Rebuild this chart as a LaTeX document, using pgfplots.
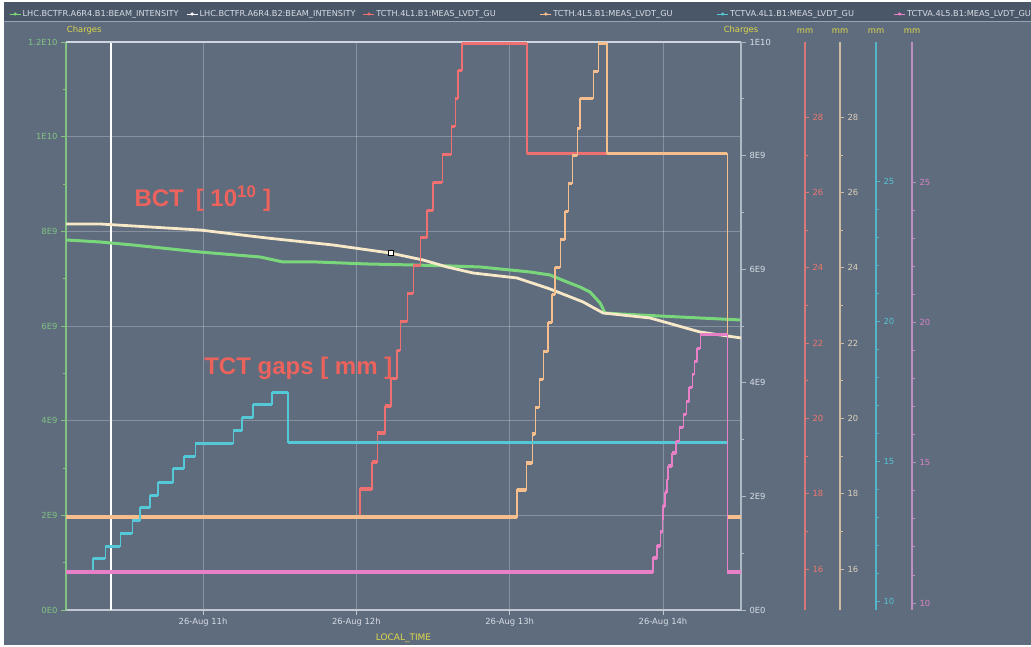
\documentclass[border=0pt]{standalone}
\usepackage{pgfplots}
\pgfplotsset{compat=1.18}
\usepackage{pgfplotstable}
\usepackage{fontspec}
\setmainfont{DejaVu Sans}
\newfontfamily\annfont{Liberation Sans}

% ---------- colours ----------
\definecolor{bgc}{RGB}{94,108,126}
\definecolor{barc}{RGB}{74,87,105}
\definecolor{sepc}{RGB}{150,165,185}
\definecolor{txtc}{RGB}{215,220,228}
\definecolor{yellowc}{RGB}{222,216,72}
\definecolor{greenc}{RGB}{122,214,122}
\definecolor{greenax}{RGB}{130,195,130}
\definecolor{creamc}{RGB}{247,232,200}
\definecolor{redc}{RGB}{238,112,112}
\definecolor{orangec}{RGB}{246,190,140}
\definecolor{cyanc}{RGB}{84,200,214}
\definecolor{pinkc}{RGB}{232,128,200}
\definecolor{topc}{RGB}{205,213,222}
\definecolor{botc}{RGB}{192,200,210}
\definecolor{rightc}{RGB}{175,185,196}
\definecolor{redax}{RGB}{215,120,120}
\definecolor{redlbl}{RGB}{240,118,110}
\definecolor{tanax}{RGB}{205,188,162}
\definecolor{tanlbl}{RGB}{222,208,188}
\definecolor{cyanax}{RGB}{82,182,200}
\definecolor{cyanlbl}{RGB}{84,196,210}
\definecolor{pinkax}{RGB}{192,142,192}
\definecolor{pinklbl}{RGB}{215,132,196}
\definecolor{annot}{RGB}{236,98,92}

% ---------- data (time in hours, 26 Aug) ----------
% LHC.BCTFR.A6R4.B1 intensity, units of 1E9 charges
\pgfplotstableread{
t v
10.106 7.817
10.328 7.775
10.543 7.711
10.980 7.563
11.372 7.458
11.522 7.352
11.744 7.352
12.070 7.310
12.370 7.289
12.611 7.268
12.807 7.247
13.133 7.141
13.263 7.078
13.374 6.930
13.459 6.824
13.524 6.718
13.590 6.486
13.622 6.275
13.720 6.254
13.981 6.211
14.242 6.169
14.509 6.127
}\Bi
% LHC.BCTFR.A6R4.B2 intensity, units of 1E9 charges (right scale)
\pgfplotstableread{
t v
10.106 6.796
10.328 6.796
10.543 6.761
10.980 6.690
11.417 6.549
11.848 6.426
12.220 6.285
12.435 6.162
12.592 6.039
12.761 5.933
13.048 5.845
13.263 5.652
13.479 5.423
13.609 5.229
13.916 5.141
14.242 4.894
14.509 4.789
}\Bii
% TCTH.4L1.B1 gap, mm
\pgfplotstableread{
t v
10.106 17.400
12.024 18.124
12.102 18.840
12.135 19.610
12.187 20.327
12.226 21.070
12.265 21.814
12.285 22.584
12.331 23.327
12.370 24.070
12.416 24.813
12.461 25.530
12.500 26.273
12.559 27.017
12.618 27.760
12.644 28.503
12.663 29.247
12.689 29.963
13.113 27.043
14.418 17.400
14.509 17.400
}\TCTHLi
% TCTH.4L5.B1 gap, mm
\pgfplotstableread{
t v
10.106 17.380
13.048 18.097
13.107 18.814
13.146 19.584
13.166 20.300
13.192 21.044
13.218 21.787
13.250 22.557
13.276 23.300
13.296 24.017
13.329 24.760
13.361 25.504
13.381 26.247
13.407 26.990
13.440 27.707
13.459 28.503
13.544 29.220
13.577 29.963
13.635 27.043
14.418 17.380
14.509 17.380
}\TCTHLv
% TCTVA.4L1.B1 gap, mm
\pgfplotstableread{
t v
10.106 11.036
10.282 11.536
10.361 11.964
10.459 12.429
10.537 12.893
10.589 13.357
10.654 13.786
10.706 14.250
10.804 14.750
10.876 15.179
10.948 15.643
11.196 16.107
11.254 16.571
11.326 17.036
11.450 17.464
11.554 15.679
14.418 15.679
}\TCTVALi
% TCTVA.4L5.B1 gap, mm
\pgfplotstableread{
t v
10.106 11.104
13.935 11.603
13.961 12.031
13.981 12.529
13.994 12.993
14.000 13.456
14.013 13.954
14.026 14.418
14.033 14.881
14.059 15.344
14.085 15.771
14.105 16.270
14.131 16.733
14.151 17.196
14.170 17.695
14.190 18.158
14.203 18.621
14.222 19.084
14.242 19.583
14.418 11.104
14.509 11.104
}\TCTVALv

\tikzset{lblfont/.style={font=\fontsize{8.4}{10}\selectfont}}

\pgfplotsset{
  base/.style={scale only axis, width=675pt, height=568pt,
    at={(66pt,37pt)}, anchor=south west,
    xmin=10.106, xmax=14.509,
    tick align=outside, major tick length=5pt, minor tick length=3pt,
    /pgf/number format/assume math mode=true,
    tick label style={lblfont},
    every non boxed x axis/.append style={x axis line style={-}, xtick align=outside},
    every non boxed y axis/.append style={y axis line style={-}, ytick align=outside}},
  gaps/.style={base, hide axis, clip=false},
  mmscale/.style={scale only axis, width=20pt, height=568pt, anchor=south east,
    xmin=0, xmax=1, xtick=\empty,
    every non boxed y axis/.append style={y axis line style={-}, ytick align=outside},
    axis x line=none, axis y line=right,
    tick align=outside, major tick length=4pt, minor tick length=3pt,
    /pgf/number format/assume math mode=true,
    tick label style={lblfont},
    title=mm, title style={at={(axis description cs:1,1)}, anchor=south,
      text=yellowc, lblfont, inner sep=1pt, yshift=1.5pt}},
  stepthin/.style={line width=1.1pt, const plot mark left},
  stepthick/.style={line width=3.2pt, jump mark left},
  legend image code/.code={%
    \draw[#1, line width=0.9pt] (0pt,0pt) -- (11pt,0pt);
    \fill[#1] (5.5pt,0pt) circle (1.4pt);},
}

\begin{document}
\begin{tikzpicture}
% screen background, legend bar
\fill[white] (0,0) rectangle (1031pt,647pt);
\fill[bgc] (4pt,2pt) rectangle (1031pt,645pt);
\fill[barc] (4pt,625pt) rectangle (1031pt,645pt);
\draw[sepc, line width=1pt] (4pt,625pt) -- (1031pt,625pt);

% ----- left charge scale, time axis, B1 -----
\begin{axis}[base, ymin=0, ymax=12,
  axis x line=bottom, axis y line=left,
  x axis line style={-, color=botc, line width=1.2pt},
  y axis line style={-, color=greenax, line width=1.2pt},
  xtick={11,12,13,14},
  xticklabels={26-Aug 11h,26-Aug 12h,26-Aug 13h,26-Aug 14h},
  xticklabel style={text=txtc},
  xtick style={color=botc, line width=0.8pt},
  ytick={0,2,...,12},
  yticklabels={0E0,2E9,4E9,6E9,8E9,1E10,1.2E10},
  minor y tick num=1,
  ytick style={color=greenax, line width=0.8pt},
  minor y tick style={color=greenax, line width=0.8pt},
  yticklabel style={text=greenax},
  grid=major,
  major grid style={color=white, opacity=0.25, line width=0.6pt},
  xlabel={LOCAL\_TIME},
  xlabel style={text=yellowc, font=\fontsize{9}{10}\selectfont, inner sep=1pt, yshift=-3pt},
  title={Charges},
  title style={at={(axis description cs:0.027,1)}, anchor=south,
    text=yellowc, lblfont, inner sep=1pt, yshift=1pt},
  legend columns=6,
  legend style={at={(-0.0844,1.0493)}, anchor=west, draw=none, fill=none,
    inner sep=0pt, text=txtc, font=\fontsize{8.2}{10}\selectfont,
    nodes={inner sep=1.5pt},
    /tikz/every even column/.append style={column sep=0pt}},
]
\addlegendimage{greenc}
\addlegendentry{\makebox[162pt][l]{LHC.BCTFR.A6R4.B1:BEAM\_INTENSITY}}
\addlegendimage{white}
\addlegendentry{\makebox[162pt][l]{LHC.BCTFR.A6R4.B2:BEAM\_INTENSITY}}
\addlegendimage{redc}
\addlegendentry{\makebox[162pt][l]{TCTH.4L1.B1:MEAS\_LVDT\_GU}}
\addlegendimage{orangec}
\addlegendentry{\makebox[162pt][l]{TCTH.4L5.B1:MEAS\_LVDT\_GU}}
\addlegendimage{cyanc}
\addlegendentry{\makebox[162pt][l]{TCTVA.4L1.B1:MEAS\_LVDT\_GU}}
\addlegendimage{pinkc}
\addlegendentry{\makebox[162pt][l]{TCTVA.4L5.B1:MEAS\_LVDT\_GU}}
% time cursor
\addplot[white, line width=1.2pt, forget plot] coordinates {(10.400,0) (10.400,12)};
\addplot[greenc, line width=3pt, forget plot] table {\Bi};
\node[anchor=base west, text=annot, font=\annfont\bfseries\fontsize{24}{28}\selectfont]
  at (axis cs:10.530,8.514) {BCT\hspace{0.5em}[ 10\textsuperscript{10} ]};
\node[anchor=base west, text=annot, font=\annfont\bfseries\fontsize{24}{28}\selectfont]
  at (axis cs:10.985,4.965) {TCT gaps [ mm ]};
\end{axis}

% ----- right charge scale, B2 -----
\begin{axis}[base, ymin=0, ymax=10,
  axis x line=top, axis y line=right,
  x axis line style={-, color=topc, line width=1.2pt},
  y axis line style={-, color=rightc, line width=1.2pt},
  xtick=\empty,
  ytick={0,2,...,10},
  yticklabels={0E0,2E9,4E9,6E9,8E9,1E10},
  minor y tick num=1,
  ytick style={color=rightc, line width=0.8pt},
  minor y tick style={color=rightc, line width=0.8pt},
  yticklabel style={text=txtc},
  title={Charges},
  title style={at={(axis description cs:1,1)}, anchor=south,
    text=yellowc, lblfont, inner sep=1pt, yshift=1pt},
]
\addplot[creamc, line width=2.8pt] table {\Bii};
\addplot[only marks, mark=square*, mark size=2.6pt,
  mark options={fill=white, draw=black, line width=0.6pt}] coordinates {(12.226,6.285)};
\end{axis}

% ----- collimator gaps -----
\begin{axis}[gaps, ymin=14.91, ymax=30]
\addplot[redc, stepthin] table {\TCTHLi};
\addplot[redc, stepthick] table {\TCTHLi};
\end{axis}
\begin{axis}[gaps, ymin=14.91, ymax=30]
\addplot[orangec, stepthin] table {\TCTHLv};
\addplot[orangec, stepthick] table {\TCTHLv};
\end{axis}
\begin{axis}[gaps, ymin=9.68, ymax=30]
\addplot[cyanc, stepthin] table {\TCTVALi};
\addplot[cyanc, stepthick] table {\TCTVALi};
\end{axis}
\begin{axis}[gaps, ymin=9.75, ymax=30]
\addplot[pinkc, stepthin] table {\TCTVALv};
\addplot[pinkc, stepthick] table {\TCTVALv};
\end{axis}

% ----- mm scales -----
\begin{axis}[mmscale, at={(805pt,37pt)}, ymin=14.91, ymax=30,
  ytick={16,18,...,28}, minor y tick num=1,
  y axis line style={-, color=redax, line width=1.1pt},
  ytick style={color=redax, line width=0.8pt}, minor y tick style={color=redax, line width=0.8pt},
  yticklabel style={text=redlbl}]
\addplot[draw=none, forget plot] coordinates {(0.5,20)};
\end{axis}
\begin{axis}[mmscale, at={(840pt,37pt)}, ymin=14.91, ymax=30,
  ytick={16,18,...,28}, minor y tick num=1,
  y axis line style={-, color=tanax, line width=1.1pt},
  ytick style={color=tanax, line width=0.8pt}, minor y tick style={color=tanax, line width=0.8pt},
  yticklabel style={text=tanlbl}]
\addplot[draw=none, forget plot] coordinates {(0.5,20)};
\end{axis}
\begin{axis}[mmscale, at={(876pt,37pt)}, ymin=9.68, ymax=30,
  ytick={10,15,20,25}, minor y tick num=4,
  y axis line style={-, color=cyanax, line width=1.1pt},
  ytick style={color=cyanax, line width=0.8pt}, minor y tick style={color=cyanax, line width=0.8pt},
  yticklabel style={text=cyanlbl}]
\addplot[draw=none, forget plot] coordinates {(0.5,20)};
\end{axis}
\begin{axis}[mmscale, at={(912pt,37pt)}, ymin=9.75, ymax=30,
  ytick={10,15,20,25}, minor y tick num=4,
  y axis line style={-, color=pinkax, line width=1.1pt},
  ytick style={color=pinkax, line width=0.8pt}, minor y tick style={color=pinkax, line width=0.8pt},
  yticklabel style={text=pinklbl}]
\addplot[draw=none, forget plot] coordinates {(0.5,20)};
\end{axis}

\pgfresetboundingbox
\useasboundingbox (0,0) rectangle (1031pt,647pt);
\end{tikzpicture}
\end{document}
